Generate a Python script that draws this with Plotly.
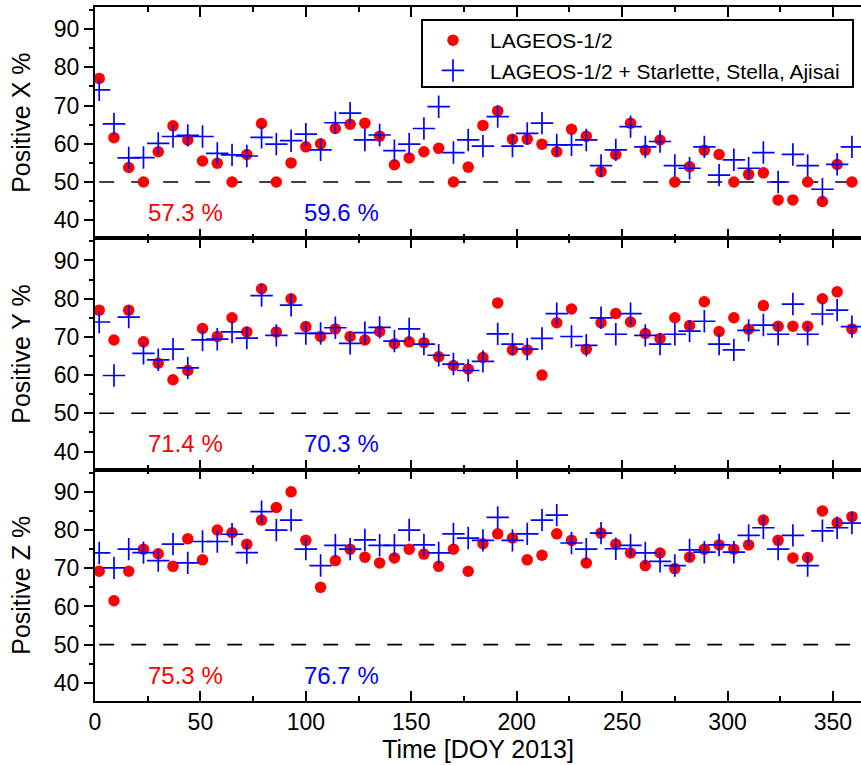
import plotly.graph_objects as go
from plotly.subplots import make_subplots

# ---- data ----
days = [2, 9, 16, 23, 30, 37, 44, 51, 58, 65, 72, 79, 86, 93, 100, 107, 114, 121, 128, 135,
        142, 149, 156, 163, 170, 177, 184, 191, 198, 205, 212, 219, 226, 233, 240, 247, 254,
        261, 268, 275, 282, 289, 296, 303, 310, 317, 324, 331, 338, 345, 352, 359]

x_lageos = [77.1, 61.6, 53.8, 50.0, 57.9, 64.7, 61.0, 55.5, 54.9, 50.0,
            57.2, 65.3, 50.0, 55.0, 59.2, 60.0, 64.0, 65.1, 65.4, 62.0,
            54.5, 56.3, 57.9, 58.8, 50.0, 53.9, 64.8, 68.6, 61.2, 61.2,
            59.9, 57.9, 63.8, 62.0, 52.7, 57.2, 65.4, 58.3, 61.0, 50.0,
            54.0, 58.3, 57.2, 50.0, 52.0, 52.4, 45.3, 45.3, 50.0, 44.9,
            54.6, 50.0]
x_combined = [74.1, 65.2, 56.3, 56.4, 60.1, 61.9, 62.2, 61.9, 57.5, 57.1,
              56.8, 61.7, 59.9, 60.8, 62.5, 58.4, 65.5, 68.0, 61.0, 62.3,
              58.2, 59.9, 64.0, 69.7, 57.7, 61.0, 59.4, 67.1, 59.4, 62.7,
              65.4, 59.7, 59.7, 61.0, 54.3, 58.4, 64.5, 59.2, 60.6, 54.3,
              53.6, 59.2, 51.8, 55.8, 53.6, 57.7, 50.0, 57.2, 54.3, 48.1,
              54.6, 59.2]

y_lageos = [77.0, 69.2, 77.0, 68.7, 63.1, 58.8, 61.2, 72.2, 70.1, 75.0,
            71.3, 82.6, 71.3, 80.0, 72.7, 70.1, 72.1, 70.1, 69.2, 71.4,
            68.2, 68.7, 68.5, 64.8, 62.5, 61.6, 64.6, 78.9, 66.6, 66.6,
            60.0, 73.7, 77.3, 66.8, 73.7, 76.1, 73.9, 70.9, 69.6, 75.0,
            73.0, 79.2, 71.4, 75.0, 72.0, 78.2, 72.8, 72.8, 72.8, 80.0,
            81.8, 72.1]
y_combined = [73.9, 59.9, 75.2, 65.7, 64.0, 66.8, 61.9, 69.2, 69.4, 71.3,
              69.7, 80.8, 70.4, 78.3, 70.9, 70.9, 72.4, 68.3, 71.1, 72.5,
              68.9, 72.1, 68.1, 65.2, 62.9, 61.2, 63.6, 70.8, 68.1, 66.8,
              69.6, 76.1, 70.1, 67.8, 75.0, 70.7, 76.1, 70.4, 68.1, 70.7,
              71.5, 74.1, 68.1, 66.6, 71.7, 73.1, 70.7, 78.6, 70.7, 76.0,
              77.0, 72.7]

z_lageos = [69.2, 61.5, 69.2, 75.0, 73.8, 70.5, 77.7, 72.2, 80.0, 79.3,
            76.3, 82.6, 85.9, 90.0, 77.3, 65.0, 72.0, 75.0, 72.9, 71.4,
            72.7, 75.0, 73.7, 70.5, 75.0, 69.2, 76.4, 79.0, 77.9, 72.2,
            73.4, 79.0, 77.3, 71.4, 79.2, 76.3, 74.0, 70.7, 74.0, 69.9,
            72.9, 75.0, 76.1, 75.0, 76.1, 82.6, 77.3, 72.7, 72.8, 85.0,
            81.9, 83.5]
z_combined = [74.0, 70.1, 75.0, 74.1, 72.0, 76.3, 71.4, 77.0, 77.0, 78.9,
              74.1, 84.8, 80.0, 82.6, 75.0, 70.7, 76.0, 75.0, 77.4, 76.0,
              76.0, 80.0, 76.1, 74.0, 79.0, 77.9, 77.3, 83.3, 77.3, 79.0,
              82.6, 83.9, 76.6, 75.0, 79.2, 75.1, 76.0, 74.0, 71.8, 70.7,
              74.8, 74.2, 76.1, 74.2, 78.6, 80.6, 75.0, 78.6, 70.7, 79.8,
              80.6, 81.8]

panel_titles = ["Positive X %", "Positive Y %", "Positive Z %"]
pct_lageos = ["57.3 %", "71.4 %", "75.3 %"]
pct_combined = ["59.6 %", "70.3 %", "76.7 %"]
threshold = 50
names = ["LAGEOS-1/2", "LAGEOS-1/2 + Starlette, Stella, Ajisai"]

RED = "#ff0000"
BLUE = "#0000ff"
FONT = "Liberation Sans, Arial, Helvetica, sans-serif"

fig = make_subplots(rows=3, cols=1, shared_xaxes=True, vertical_spacing=0)

series = [(x_lageos, x_combined), (y_lageos, y_combined), (z_lageos, z_combined)]
for i, (red_vals, blue_vals) in enumerate(series):
    row = i + 1
    fig.add_trace(go.Scatter(x=[days[0], days[-1]], y=[threshold, threshold], mode="lines",
                             line=dict(color="black", width=1.6, dash="15px,17px"),
                             showlegend=False, hoverinfo="skip"), row=row, col=1)
    fig.add_trace(go.Scatter(x=days, y=red_vals, mode="markers", name=names[0],
                             marker=dict(symbol="circle", size=11.5, color=RED),
                             showlegend=(i == 0)), row=row, col=1)
    fig.add_trace(go.Scatter(x=days, y=blue_vals, mode="markers", name=names[1],
                             marker=dict(symbol="cross-thin", size=16,
                                         line=dict(color=BLUE, width=1.7)),
                             showlegend=(i == 0)), row=row, col=1)
    fig.add_annotation(x=43, y=42, xref=f"x{'' if row == 1 else row}",
                       yref=f"y{'' if row == 1 else row}", text=pct_lageos[i],
                       showarrow=False, font=dict(color=RED, size=24, family=FONT))
    fig.add_annotation(x=117, y=42, xref=f"x{'' if row == 1 else row}",
                       yref=f"y{'' if row == 1 else row}", text=pct_combined[i],
                       showarrow=False, font=dict(color=BLUE, size=24, family=FONT))
    fig.update_yaxes(row=row, col=1, range=[35.25, 95.8], tickvals=[40, 50, 60, 70, 80, 90],
                     ticks="outside", ticklen=9, tickwidth=1.5, tickcolor="black",
                     minor=dict(dtick=5, tick0=0, ticks="outside", ticklen=4.5,
                                tickwidth=1.5, tickcolor="black"),
                     showline=True, linecolor="black", linewidth=2, mirror=False,
                     showgrid=False, zeroline=False,
                     tickfont=dict(size=23, family=FONT, color="black"),
                     title=dict(text=panel_titles[i], standoff=16,
                                font=dict(size=25, family=FONT, color="black")))
    fig.update_xaxes(row=row, col=1, range=[0, 363.3], dtick=50, tick0=0,
                     ticks="inside", ticklen=10, tickwidth=1.5, tickcolor="black",
                     minor=dict(dtick=25, tick0=0, ticks="inside", ticklen=5,
                                tickwidth=1.5, tickcolor="black"),
                     showline=True, linecolor="black", linewidth=1.6, mirror="ticks",
                     showgrid=False, zeroline=False,
                     tickfont=dict(size=23, family=FONT, color="black"))

fig.update_xaxes(row=3, col=1, title=dict(text="Time [DOY 2013]", standoff=4,
                                          font=dict(size=25, family=FONT, color="black")))

# legend frame
fig.add_shape(type="rect", xref="paper", yref="paper",
              x0=(422 - 95) / 766, x1=(853 - 95) / 766,
              y0=(701 - 87) / 694, y1=(701 - 20) / 694,
              line=dict(color="black", width=2), fillcolor="white", layer="below")

fig.update_layout(
    width=861, height=765,
    margin=dict(l=95, r=0, t=7, b=64),
    paper_bgcolor="white", plot_bgcolor="white",
    font=dict(family=FONT, color="black"),
    showlegend=True,
    legend=dict(x=(416 - 95) / 766, y=(701 - 20) / 694, xanchor="left", yanchor="top",
                bgcolor="rgba(0,0,0,0)", borderwidth=0, itemwidth=64,
                font=dict(size=21, family=FONT, color="black"),
                tracegroupgap=0),
)

fig.write_html("out.html")
